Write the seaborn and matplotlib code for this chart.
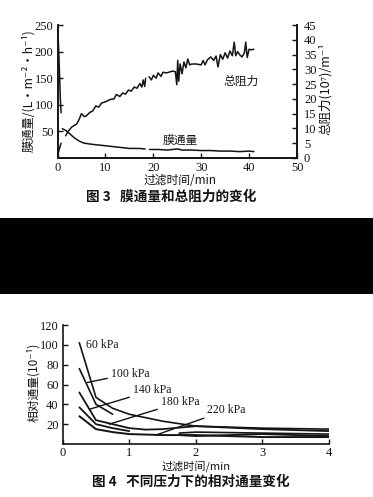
import numpy as np
import matplotlib
matplotlib.use("Agg")
import matplotlib.pyplot as plt
from matplotlib.patches import Rectangle
import seaborn as sns

sns.set_theme(style="ticks")
SERIF = ['Liberation Serif', 'Noto Sans CJK SC', 'DejaVu Sans']
CJK = ['Noto Sans CJK SC', 'Liberation Serif', 'DejaVu Sans']
plt.rcParams['font.family'] = SERIF
INK = '#141414'

# --- Figure 3 data ---
flux_x = [0.05, 0.15, 0.3, 0.45, 0.6, 0.75, 1.0, 1.0, 1.7, 2.5, 3.5, 4.5, 5.5, 7, 9, 11, 13, 15, 17, 18.3,
          18.8, 19.2, 21, 23, 25, 26, 28, 30, 32, 34, 36, 38, 40, 41]
flux_y = [235, 225, 190, 150, 110, 85, np.nan, 55, 52, 46, 38, 32, 28, 26, 24, 22, 20, 18, 18, 17,
          np.nan, 16, 16, 15, 17, 15, 15, 14, 14, 13, 13, 12, 13, 12]
res_x = [0.05, 0.2, 0.45, 0.75, 1.0, 1.7, 2.2, 3, 3.5, 4, 4.5, 5, 5.6, 6, 6.8, 7.3, 8, 8.6, 9.2, 10, 11, 11.8,
         12.3, 13, 13.6, 14.2, 14.8, 15.4, 16, 16.6, 17.2, 17.6, 17.9, 18.2, 18.4, 18.7,
         19.1, 19.6, 20, 20.6, 21, 21.6, 22, 22.8, 24, 24.6, 24.9, 25.1, 25.3, 25.6, 26, 26.4, 26.8, 27.2,
         27.6, 28, 29, 30, 30.4, 30.8, 31.3, 32, 32.6, 33.1, 33.5, 34, 34.5, 35, 35.5, 36, 36.5,
         36.9, 37.2, 37.6, 38, 38.5, 39, 39.3, 39.6, 40, 40.5, 41]
res_y = [1, 2, 3.5, 5, np.nan, 7.5, 9, 10.5, 11, 11.5, 13, 15, 14, 14.2, 15.5, 15.8, 17.6, 17.2, 18.6, 19, 19.8, 20,
         21.5, 20.8, 22, 21.6, 23, 22.6, 24, 23.6, 25.2, 24, 26.4, 24.2, 27, np.nan,
         27.5, 26.4, 28, 27, 28.8, 27.6, 29, 28.8, 29.4, 29.2, 24.8, 33, 26, 31.8, 28.5, 32.5, 30.5, 33.5,
         31.5, 31.8, 31.8, 31.5, 33, 31.5, 33.2, 34.2, 33, 34.5, 30.8, 35, 33.4, 35.6, 33.8, 36.2, 34.6,
         39.2, 34.6, 36, 35, 34.2, 35.5, 39.2, 34, 36.8, 36.6, 36.8]
fig3_xticks = [0, 10, 20, 30, 40, 50]
flux_ticks = [50, 100, 150, 200, 250]
res_ticks = [0, 5, 10, 15, 20, 25, 30, 35, 40, 45]

# --- Figure 4 data ---
t_60 = [0.25, 0.5, 0.75, 1, 1.5, 2, 3, 4]
v_60 = [102, 47, 36, 30, 23, 18, 16, 15]
t_100 = [0.25, 0.5, 0.75, 0.75, 1.75, 2, 3, 4]
v_100 = [76, 40, 30, np.nan, 11, 12, 11, 10]
t_140 = [0.25, 0.5, 0.75, 1, 1.25, 1.5, 2, 3, 4]
v_140 = [52, 24, 20, 16, 14.5, 15, 18, 15, 13]
t_180 = [0.25, 0.5, 0.75, 1, 1, 1.75, 2, 3, 4]
v_180 = [37, 20, 16, 13, np.nan, 9, 8, 10, 8]
t_220 = [0.25, 0.5, 0.75, 1, 1.5, 2, 3, 4]
v_220 = [28, 15, 12, 10, 9, 9, 7, 7]
fig4_xticks = [0, 1, 2, 3, 4]
fig4_yticks = [20, 40, 60, 80, 100, 120]

W, H = 373, 497
fig = plt.figure(figsize=(W / 100, H / 100), dpi=100, facecolor='white')


def make_ax(left, right, top, bottom):
    return fig.add_axes([left / W, 1 - bottom / H, (right - left) / W, (bottom - top) / H])


def ftext(x, y, s, **kw):
    kw.setdefault('ha', 'center')
    kw.setdefault('va', 'center')
    kw.setdefault('color', INK)
    fig.text(x / W, 1 - y / H, s, **kw)


def style(ax):
    for s in ax.spines.values():
        s.set_linewidth(1.2)
        s.set_color(INK)
    ax.tick_params(direction='in', length=3.5, width=1, colors=INK, labelsize=9, pad=3)


def draw(ax, xs, ys, lw=1.1):
    """One lineplot per unbroken stretch, so a NaN in ys leaves a gap in the curve."""
    xs, ys = np.asarray(xs, float), np.asarray(ys, float)
    breaks = np.flatnonzero(np.isnan(ys))
    for xa, ya in zip(np.split(xs, breaks), np.split(ys, breaks)):
        keep = ~np.isnan(ya)
        sns.lineplot(x=xa[keep], y=ya[keep], ax=ax, color=INK, lw=lw, sort=False, estimator=None)


# Figure 3
ax = make_ax(57.5, 297, 25, 158)
draw(ax, flux_x, flux_y)
ax.set(xlim=(0, 50), ylim=(0, 250))
ax.set_xticks(fig3_xticks)
ax.set_yticks(flux_ticks)
style(ax)
ax.spines['top'].set_visible(False)
ax2 = ax.twinx()
draw(ax2, res_x, res_y)
ax2.set(xlim=(0, 50), ylim=(0, 45), ylabel='')
ax2.set_yticks(res_ticks)
style(ax2)
ax2.tick_params(axis='y', pad=5)
ax2.spines['top'].set_visible(False)
ax2.text(38.4, 26.0, '总阻力', family=CJK, fontsize=8.5, ha='center', va='center', color=INK)
ax.text(25.6, 33, '膜通量', family=CJK, fontsize=8.5, ha='center', va='center', color=INK)
ftext(28, 91, '膜通量/(L·m⁻²·h⁻¹)', rotation=90, fontsize=8.8, family=CJK)
ftext(325, 89, '总阻力(10⁷)/m⁻¹', rotation=90, fontsize=9, family=CJK)
ftext(180, 181, '过滤时间/min', fontsize=8.5, family=CJK)
ftext(171, 197, '图 3   膜通量和总阻力的变化', fontsize=9.8, family=CJK, fontweight='bold')

# Black band
fig.add_artist(Rectangle((0, 1 - 294 / H), 1, 76 / H, transform=fig.transFigure, color='black', lw=0))

# Figure 4
bx = make_ax(62.7, 329, 325, 444)
for t, v, lw in [(t_60, v_60, 1.2), (t_100, v_100, 1.2), (t_140, v_140, 1.3), (t_180, v_180, 1.3), (t_220, v_220, 1.4)]:
    draw(bx, t, v, lw)
bx.set(xlim=(0, 4), ylim=(0, 120))
bx.set_xticks(fig4_xticks)
bx.set_yticks(fig4_yticks)
style(bx)
bx.tick_params(axis='x', pad=2)
bx.spines['top'].set_visible(False)
bx.spines['right'].set_visible(False)
labels = [('60 kPa', (0.35, 100), None),
          ('100 kPa', (0.72, 71), (0.37, 62)),
          ('140 kPa', (1.05, 54), (0.4, 35)),
          ('180 kPa', (1.47, 42), (0.7, 20)),
          ('220 kPa', (2.17, 34), (1.4, 9))]
for s, pos, tip in labels:
    if tip is None:
        bx.text(pos[0], pos[1], s, fontsize=8.5, va='center', color=INK)
    else:
        bx.annotate(s, xy=tip, xytext=pos, fontsize=8.5, va='center', color=INK,
                    arrowprops=dict(arrowstyle='-', color=INK, lw=1, shrinkA=0, shrinkB=0))
ftext(33, 382, '相对通量(10⁻¹)', rotation=90, fontsize=8.5, family=CJK)
ftext(196, 466.5, '过滤时间/min', fontsize=8, family=CJK)
ftext(191, 481.5, '图 4   不同压力下的相对通量变化', fontsize=9.8, family=CJK, fontweight='bold')

for a in (ax, ax2, bx):
    a.set_xlabel('')
    a.set_ylabel('')
fig.savefig('out.png', dpi=100, facecolor='white')
